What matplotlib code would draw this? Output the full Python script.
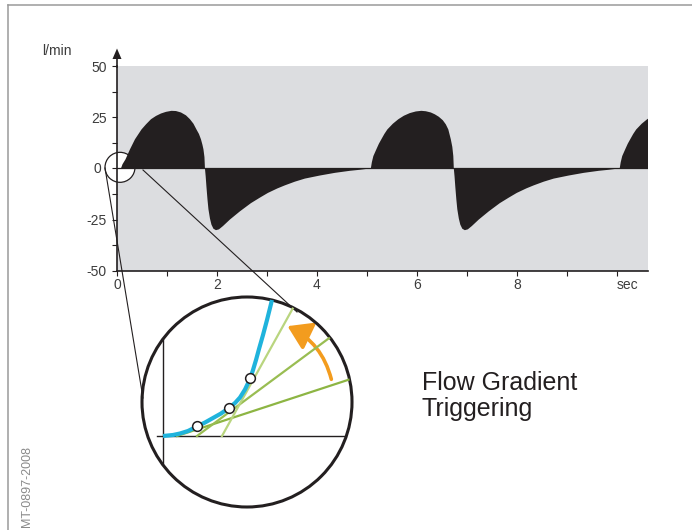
import numpy as np
import matplotlib
matplotlib.use('Agg')
import matplotlib.pyplot as plt
from matplotlib.patches import Circle, Ellipse, Polygon, FancyArrowPatch

plt.rcParams['font.family'] = ['Liberation Sans', 'DejaVu Sans']
plt.rcParams['axes.unicode_minus'] = False

# ── flow trace ────────────────────────────────────────────────────────────────
# first breath, inspiration (offset from breath start, l/min)
INSP1_T = [0, 0.03, 0.09, 0.18, 0.28, 0.41, 0.50, 0.60, 0.70, 0.80, 0.90, 1.01, 1.10,
           1.20, 1.30, 1.38, 1.45, 1.51, 1.56, 1.60, 1.63, 1.65, 1.67, 1.68]
INSP1_Q = [0, 2, 4.4, 9.3, 14.2, 19, 21.5, 24, 25.6, 26.8, 27.6, 28.1, 28,
           27.3, 25.9, 24, 21.8, 19, 16.8, 14.2, 11.5, 9.3, 5.5, 0]
# later breaths, inspiration
INSP_T = [0, 0.02, 0.05, 0.11, 0.16, 0.21, 0.27, 0.33, 0.44, 0.55, 0.66, 0.78, 0.90,
          1.01, 1.10, 1.20, 1.28, 1.36, 1.44, 1.50, 1.55, 1.60, 1.63, 1.65, 1.66]
INSP_Q = [0, 3, 6, 9.3, 12, 14.2, 16.8, 19, 21.8, 24, 25.7, 27, 27.8,
          28.1, 27.9, 27.3, 26.4, 25.2, 23.5, 21.5, 19, 14.2, 10.5, 6, 0]
# expiration (offset from zero crossing)
EXP_T = [0, 0.015, 0.03, 0.05, 0.07, 0.10, 0.13, 0.17, 0.22, 0.28, 0.36, 0.50, 0.70,
         0.92, 1.10, 1.26, 1.45, 1.60, 1.80, 2.00, 2.30, 2.60, 2.90, 3.10, 3.32]
EXP_Q = [0, -4, -9, -15, -20, -24.5, -27.5, -29.5, -30.2, -29.8, -28.2, -25, -21,
         -17, -14.3, -12, -9.8, -8.3, -6.5, -5, -3.5, -2.2, -1.2, -0.7, 0]
BREATH_STARTS = [0.08, 5.08, 10.06]

Y_TICKS = [-50, -25, 0, 25, 50]
Y_LABELS = ['-50', '-25', '', '25', '50']
X_TICKS = [0, 2, 4, 6, 8, 10]
X_LABELS = ['0', '2', '4', '6', '8', 'sec']

# ── magnifier sketch (local units, origin at the inset axes crossing) ──────────
CURVE_X = [0, 10, 17, 25, 34, 42, 50, 58, 66, 72, 77, 82, 87, 90, 93, 96, 100, 104, 108, 112]
CURVE_Y = [0, 1, 2.5, 5, 9.5, 13.5, 18, 22.5, 28, 33, 38.5, 46.5, 57, 66, 76, 87, 101, 116, 132, 150]
MARK_X = [34, 66, 87]
MARK_Y = [10, 28, 58]
TANGENTS = [((14, 0), (200, 61), '#8db543'),
            ((34, 0), (200, 123), '#99bd52'),
            ((59, 0), (140, 146), '#b9d57f')]

BLACK = '#231f20'
GRAY_BG = '#dcdde0'
TICK_TXT = '#3c3c3c'

# build the series
t_parts, q_parts = [], []
for i, s in enumerate(BREATH_STARTS):
    it, iq = (INSP1_T, INSP1_Q) if i == 0 else (INSP_T, INSP_Q)
    t_parts.append(s + np.array(it))
    q_parts.append(np.array(iq, dtype=float))
    z = s + it[-1]
    t_parts.append(z + np.array(EXP_T))
    q_parts.append(np.array(EXP_Q, dtype=float))
t = np.concatenate(t_parts)
q = np.concatenate(q_parts)

W, H = 692, 530
fig = plt.figure(figsize=(W / 100, H / 100), dpi=100)

# ── main chart ────────────────────────────────────────────────────────────────
x0, x1, y0, y1 = 117, 647.7, 66, 270.7
ax = fig.add_axes([x0 / W, (H - y1) / H, (x1 - x0) / W, (y1 - y0) / H])
ax.set_facecolor(GRAY_BG)
ax.set_xlim(0, 10.62)
ax.set_ylim(-50, 50)

# little circle at origin (white inside)
sx = 15 / 50.0
sy = 15 / ((y1 - y0) / 100.0)
ax.add_patch(Ellipse((0.06, 0.5), 2 * sx, 2 * sy, facecolor='white',
                     edgecolor=BLACK, lw=0.9, zorder=1, clip_on=False))
ax.fill_between(t, 0, q, color=BLACK, lw=0, zorder=2)
ax.axhline(0, color=BLACK, lw=0.9, zorder=3)

for s in ['top', 'right']:
    ax.spines[s].set_visible(False)
for s in ['left', 'bottom']:
    ax.spines[s].set_color(BLACK)
    ax.spines[s].set_linewidth(1.2)
    ax.spines[s].set_zorder(5)

ax.set_yticks(Y_TICKS)
ax.set_yticklabels(Y_LABELS)
ax.set_yticks(np.arange(-50, 51, 12.5), minor=True)
ax.set_xticks(X_TICKS)
ax.set_xticklabels(X_LABELS)
ax.set_xticks(np.arange(1, 11, 2), minor=True)
ax.tick_params(which='both', direction='out', length=3.5, width=0.8, color=BLACK)
ax.tick_params(axis='y', pad=4, labelsize=10, labelcolor=TICK_TXT)
ax.tick_params(axis='x', pad=2, labelsize=10, labelcolor=TICK_TXT)
ax.get_xticklabels()[-1].set_ha('left')

# ── overlay in pixel coordinates ──────────────────────────────────────────────
ov = fig.add_axes([0, 0, 1, 1], facecolor='none')
ov.set_xlim(0, W)
ov.set_ylim(H, 0)
ov.axis('off')

ov.plot([8, W], [5, 5], color='#9a9a9a', lw=1.1)
ov.plot([8, 8], [5, H], color='#9a9a9a', lw=1.1)
ov.plot([117, 117], [67, 58], color=BLACK, lw=1.2)
ov.add_patch(Polygon([[117, 48.5], [112.5, 59], [121.5, 59]], closed=True,
                     facecolor=BLACK, edgecolor='none'))
ov.text(42, 51, 'l/min', ha='left', va='center', fontsize=10, color=TICK_TXT)
ov.text(101, 169, '0', ha='right', va='center', fontsize=10, color=TICK_TXT)
ov.text(27, 527, 'MT-0897-2008', rotation=90, ha='center', va='bottom',
        fontsize=9, color='#8a8a8a')

# lines from the small circle to the magnifier
ov.plot([105, 143], [168, 398], color=BLACK, lw=0.8)
ov.plot([143, 297], [170, 312], color=BLACK, lw=0.8)

ov.text(422, 371, 'Flow Gradient\nTriggering', ha='left', va='top',
        fontsize=18, color=BLACK, linespacing=1.12)

# ── magnifier ─────────────────────────────────────────────────────────────────
cx, cy, r = 84, 34, 105
ins = fig.add_axes([142 / W, 23 / H, 210 / W, 210 / H], facecolor='none')
ins.set_xlim(cx - r, cx + r)
ins.set_ylim(cy - r, cy + r)
ins.set_aspect('equal')
ins.axis('off')

clip = Circle((cx, cy), r, transform=ins.transData)

def clipped(artists):
    for a in artists:
        a.set_clip_path(clip)

clipped(ins.plot([-6, 200], [0, 0], color=BLACK, lw=1.0))
clipped(ins.plot([0, 0], [-80, 150], color=BLACK, lw=1.0))
for (ax_, ay_), (bx_, by_), col in TANGENTS:
    clipped(ins.plot([ax_, bx_], [ay_, by_], color=col, lw=1.6))
clipped(ins.plot(CURVE_X, CURVE_Y, color='#1fb3dc', lw=3.0, solid_capstyle='butt'))
ins.plot(MARK_X, MARK_Y, 'o', ms=7, mfc='white', mec=BLACK, mew=1.1)

arr = FancyArrowPatch((169, 54), (122, 111),
                      connectionstyle='arc3,rad=0.25',
                      arrowstyle='-|>,head_length=0.7,head_width=0.45',
                      mutation_scale=20, color='#f39c1e', lw=2.6)
ins.add_patch(arr)

ins.add_patch(Circle((cx, cy), r, fill=False, edgecolor=BLACK, lw=2.2, clip_on=False))

fig.savefig('out.png', dpi=100)
